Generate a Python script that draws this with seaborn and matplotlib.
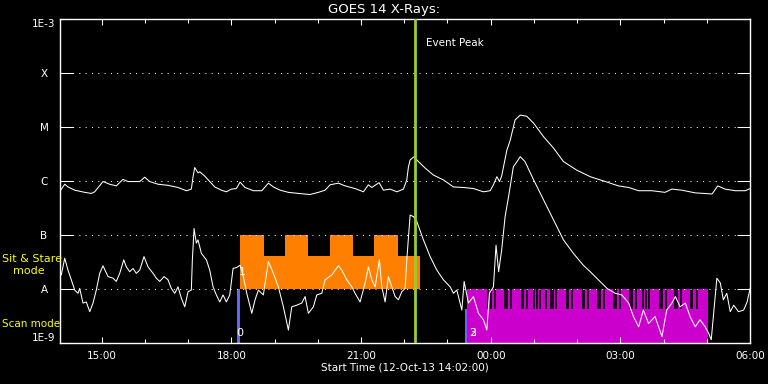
import numpy as np
import matplotlib
matplotlib.use("Agg")
import matplotlib.pyplot as plt
import seaborn as sns

# GOES 14 X-ray flux, hours after 12-Oct-13 14:02:00 and log10 flux (W/m^2)
long_hours = [0.016, 0.109, 0.185, 0.340, 0.572, 0.725, 0.803, 0.995, 1.150, 1.303,
              1.458, 1.574, 1.845, 1.961, 2.076, 2.269, 2.5, 2.731, 2.924, 3.039,
              3.079, 3.118, 3.194, 3.234, 3.350, 3.465, 3.581, 3.734, 3.850, 3.965,
              4.081, 4.167, 4.282, 4.475, 4.669, 4.822, 4.938, 5.093, 5.285, 5.516,
              5.787, 5.979, 6.134, 6.25, 6.442, 6.597, 6.829, 7.021, 7.137, 7.215,
              7.384, 7.484, 7.639, 7.794, 7.947, 8.025, 8.063, 8.102, 8.194, 8.294,
              8.449, 8.641, 8.873, 9.104, 9.336, 9.567, 9.799, 9.954, 10.03, 10.11,
              10.17, 10.22, 10.34, 10.42, 10.53, 10.65, 10.80, 10.96, 11.19, 11.42,
              11.65, 11.96, 12.27, 12.62, 12.92, 13.16, 13.39, 13.70, 14.00, 14.16,
              14.39, 14.70, 15.09, 15.22, 15.39, 15.63, 15.86, 15.97]
long_logflux = [-6.17, -6.06, -6.11, -6.17, -6.21, -6.23, -6.20, -6.01, -6.06, -6.09,
                -5.97, -6.01, -6.01, -5.93, -6.01, -6.06, -6.08, -6.12, -6.18, -6.15,
                -5.92, -5.75, -5.85, -5.83, -5.91, -6.01, -6.11, -6.17, -6.20, -6.15,
                -6.14, -6.02, -6.12, -6.18, -6.18, -6.04, -6.11, -6.17, -6.21, -6.23,
                -6.25, -6.21, -6.17, -6.07, -6.04, -6.09, -6.14, -6.20, -6.07, -6.12,
                -6.03, -6.17, -6.15, -6.20, -6.15, -5.98, -5.74, -5.61, -5.55, -5.64,
                -5.76, -5.89, -5.98, -6.11, -6.12, -6.14, -6.20, -6.18, -6.07, -5.92,
                -6.01, -5.91, -5.43, -5.24, -4.87, -4.78, -4.80, -4.93, -5.18, -5.39,
                -5.64, -5.80, -5.92, -6.01, -6.09, -6.12, -6.18, -6.18, -6.21, -6.15,
                -6.17, -6.22, -6.24, -6.09, -6.15, -6.18, -6.18, -6.14]

short_hours = [0.03, 0.109, 0.185, 0.262, 0.340, 0.417, 0.456, 0.532, 0.609, 0.688,
               0.764, 0.840, 0.919, 0.995, 1.111, 1.227, 1.303, 1.382, 1.475, 1.535,
               1.613, 1.690, 1.766, 1.845, 1.944, 2.037, 2.153, 2.229, 2.308, 2.407,
               2.5, 2.576, 2.655, 2.731, 2.808, 2.887, 2.963, 3.039, 3.063, 3.102,
               3.155, 3.194, 3.271, 3.387, 3.465, 3.542, 3.618, 3.697, 3.773, 3.850,
               3.928, 4.005, 4.090, 4.167, 4.243, 4.322, 4.438, 4.514, 4.590, 4.706,
               4.822, 4.938, 5.053, 5.169, 5.285, 5.363, 5.479, 5.595, 5.671, 5.748,
               5.863, 5.942, 6.058, 6.134, 6.289, 6.442, 6.521, 6.637, 6.752, 6.829,
               6.944, 7.060, 7.137, 7.215, 7.292, 7.391, 7.447, 7.523, 7.600, 7.678,
               7.755, 7.831, 7.910, 7.986, 8.025, 8.102, 8.178, 8.257, 8.410, 8.565,
               8.720, 8.873, 9.028, 9.104, 9.183, 9.299, 9.352, 9.451, 9.567, 9.683,
               9.799, 9.877, 9.937, 10.03, 10.09, 10.15, 10.22, 10.30, 10.38, 10.49,
               10.65, 10.76, 10.96, 11.19, 11.42, 11.65, 11.88, 12.11, 12.27, 12.46,
               12.66, 12.85, 13.00, 13.16, 13.27, 13.39, 13.50, 13.62, 13.77, 13.93,
               14.04, 14.16, 14.24, 14.35, 14.47, 14.58, 14.70, 14.81, 14.93, 15.01,
               15.07, 15.12, 15.20, 15.28, 15.35, 15.43, 15.51, 15.59, 15.70, 15.82,
               15.90, 15.97]
short_logflux = [-7.74, -7.43, -7.65, -7.83, -8.02, -8.08, -7.99, -8.26, -8.24, -8.42,
                 -8.26, -8.02, -7.71, -7.57, -7.77, -7.80, -7.86, -7.71, -7.46, -7.59,
                 -7.68, -7.62, -7.71, -7.65, -7.40, -7.59, -7.71, -7.80, -7.86, -7.77,
                 -7.83, -7.99, -8.08, -7.96, -8.17, -8.33, -8.05, -8.02, -7.46, -6.88,
                 -7.15, -7.09, -7.34, -7.46, -7.65, -7.96, -8.11, -8.24, -8.11, -8.24,
                 -8.11, -7.62, -7.60, -7.56, -7.77, -8.08, -8.45, -8.20, -8.02, -8.11,
                 -7.49, -7.71, -7.96, -8.33, -8.76, -8.33, -8.30, -8.26, -8.14, -8.45,
                 -8.33, -8.11, -8.08, -7.83, -7.74, -7.57, -7.65, -7.83, -7.96, -8.08,
                 -8.24, -7.89, -7.59, -7.83, -7.96, -7.46, -7.96, -8.24, -7.77, -7.96,
                 -8.14, -8.20, -8.05, -7.99, -7.46, -6.63, -6.66, -6.75, -7.09, -7.40,
                 -7.65, -7.83, -7.96, -8.08, -8.02, -8.39, -7.86, -8.26, -8.14, -8.45,
                 -8.57, -8.76, -8.08, -7.96, -7.19, -7.68, -7.28, -6.66, -6.29, -5.74,
                 -5.55, -5.64, -5.98, -6.35, -6.72, -7.09, -7.34, -7.56, -7.68, -7.83,
                 -7.99, -8.08, -8.11, -8.26, -8.51, -8.70, -8.39, -8.64, -8.51, -8.88,
                 -8.39, -8.26, -8.14, -8.33, -8.26, -8.51, -8.70, -8.57, -8.70, -8.82,
                 -8.94, -8.51, -7.80, -7.89, -8.20, -8.08, -8.42, -8.30, -8.42, -8.39,
                 -8.24, -7.99]

class_levels = [-9, -8, -7, -6, -5, -4, -3]
class_labels = ["1E-9", "A", "B", "C", "M", "X", "1E-3"]

time_labels = ["15:00", "18:00", "21:00", "00:00", "03:00", "06:00"]
first_hour = 0.9667      # 15:00 in hours after 14:02
x_end = 15.967           # 06:00

# observing modes (hours after start)
event_peak = 8.217
stare_span = (4.167, 8.34)
stare_blocks = [(4.167, 4.71), (5.20, 5.75), (6.24, 6.79), (7.27, 7.83)]
scan_span = (9.414, 15.0)
scan_gaps = [9.91, 9.98, 10.07, 10.30, 10.35, 10.44, 10.69, 10.72, 10.81, 10.97,
             11.04, 11.11, 11.25, 11.37, 11.41, 11.48, 11.74, 11.76, 11.85, 12.11,
             12.13, 12.22, 12.45, 12.50, 12.59, 12.82, 12.87, 12.96, 13.19, 13.24,
             13.33, 13.50, 13.56, 13.63, 13.89, 13.94, 14.03, 14.24, 14.28, 14.38,
             14.61, 14.63, 14.75]
start_markers = [(4.09, 4.167), (9.375, 9.414)]

sns.set_theme(style="ticks", rc={
    "axes.facecolor": "black", "figure.facecolor": "black",
    "axes.edgecolor": "white", "text.color": "white",
    "xtick.color": "white", "ytick.color": "white",
})
plt.rcParams["font.family"] = ["DejaVu Sans"]

fig = plt.figure(figsize=(7.68, 3.84), dpi=100)
ax = fig.add_axes([60 / 768, 1 - 343 / 384, 690 / 768, 324 / 384])

orange = "#ff8000"
magenta = "#cc00cc"
blue = "#6464ff"
bar_kw = dict(edgecolor="none", linewidth=0)

# sit & stare mode
ax.broken_barh([(stare_span[0], stare_span[1] - stare_span[0])],
               (1e-8, 10 ** -7.39 - 1e-8), facecolors=orange, zorder=1, **bar_kw)
ax.broken_barh([(a, b - a) for a, b in stare_blocks],
               (10 ** -7.39, 1e-7 - 10 ** -7.39), facecolors=orange, zorder=1, **bar_kw)
# scan mode
ax.broken_barh([(scan_span[0], scan_span[1] - scan_span[0])],
               (1e-9, 1e-8 - 1e-9), facecolors=magenta, zorder=1, **bar_kw)
ax.vlines(scan_gaps, 10 ** -8.376, 1e-8, color="black", lw=1.2, zorder=1.2)
# start markers
ax.broken_barh([(start_markers[0][0], start_markers[0][1] - start_markers[0][0])],
               (1e-9, 1e-8 - 1e-9), facecolors=blue, zorder=1.3, **bar_kw)
ax.broken_barh([(start_markers[1][0], start_markers[1][1] - start_markers[1][0])],
               (1e-9, 10 ** -8.376 - 1e-9), facecolors=blue, zorder=1.3, **bar_kw)

sns.lineplot(x=long_hours, y=10 ** np.array(long_logflux), ax=ax, color="white",
             lw=0.75, sort=False, estimator=None, zorder=3)
sns.lineplot(x=short_hours, y=10 ** np.array(short_logflux), ax=ax, color="white",
             lw=0.75, sort=False, estimator=None, zorder=3)

ax.axvline(event_peak, color="#9acd32", lw=2, zorder=4)
ax.text(event_peak + 0.25, 10 ** -3.44, "Event Peak", fontsize=7.5, color="white",
        va="center", ha="left")

ax.text(start_markers[0][0] + 0.07, 10 ** -8.815, "0", fontsize=8, color="white",
        ha="center", va="center", zorder=5)
ax.text(start_markers[0][1] + 0.06, 10 ** -7.68, "1", fontsize=8, color="white",
        ha="center", va="center", zorder=5)
ax.text(scan_span[0] + 0.13, 10 ** -8.815, "2", fontsize=8, color="white",
        ha="center", va="center", zorder=5)
ax.text(scan_span[0] + 0.13, 10 ** -8.815, "3", fontsize=8, color="white",
        ha="center", va="center", zorder=5)

ax.set_yscale("log")
ax.set_ylim(1e-9, 1e-3)
ax.set_xlim(0, x_end)
ax.set_yticks(10.0 ** np.array(class_levels))
ax.set_yticklabels(class_labels)
ax.yaxis.set_minor_locator(plt.NullLocator())
ax.set_xticks(first_hour + np.arange(0, 16, 3), time_labels)
ax.set_xticks(first_hour + np.arange(0, 16), minor=True)

ax.tick_params(axis="y", which="major", direction="in", length=9.5, width=0.75,
               left=True, right=True, labelsize=7.5, pad=11.5)
ax.tick_params(axis="x", which="major", direction="in", length=4.5, width=0.75,
               top=True, bottom=True, labelsize=7.5, pad=5.5)
ax.tick_params(axis="x", which="minor", direction="in", length=2.8, width=0.75,
               top=True, bottom=True)
for lbl in ax.get_yticklabels():
    lbl.set_ha("center")
ylabels = ax.get_yticklabels()
ylabels[0].set_va("bottom")
ylabels[-1].set_va("top")

ax.set_axisbelow(False)
ax.yaxis.grid(True, color="white", linestyle=(0, (1, 5.3)), linewidth=0.72)
ax.xaxis.grid(False)
for sp in ax.spines.values():
    sp.set_color("white")
    sp.set_linewidth(1)

fig.text(384 / 768, 1 - 10 / 384, "GOES 14 X-Rays:", fontsize=9.5, color="white",
         ha="center", va="center")
fig.text(405 / 768, 1 - 368 / 384, "Start Time (12-Oct-13 14:02:00)", fontsize=7.5,
         color="white", ha="center", va="center")
fig.text(2 / 768, 1 - 259 / 384, "Sit & Stare", fontsize=8, color="yellow",
         ha="left", va="center", zorder=10)
fig.text(13 / 768, 1 - 271 / 384, "mode", fontsize=8, color="yellow",
         ha="left", va="center", zorder=10)
fig.text(2 / 768, 1 - 324 / 384, "Scan mode", fontsize=7.5, color="yellow",
         ha="left", va="center", zorder=10)

fig.savefig("out.png", dpi=100, facecolor="black")
